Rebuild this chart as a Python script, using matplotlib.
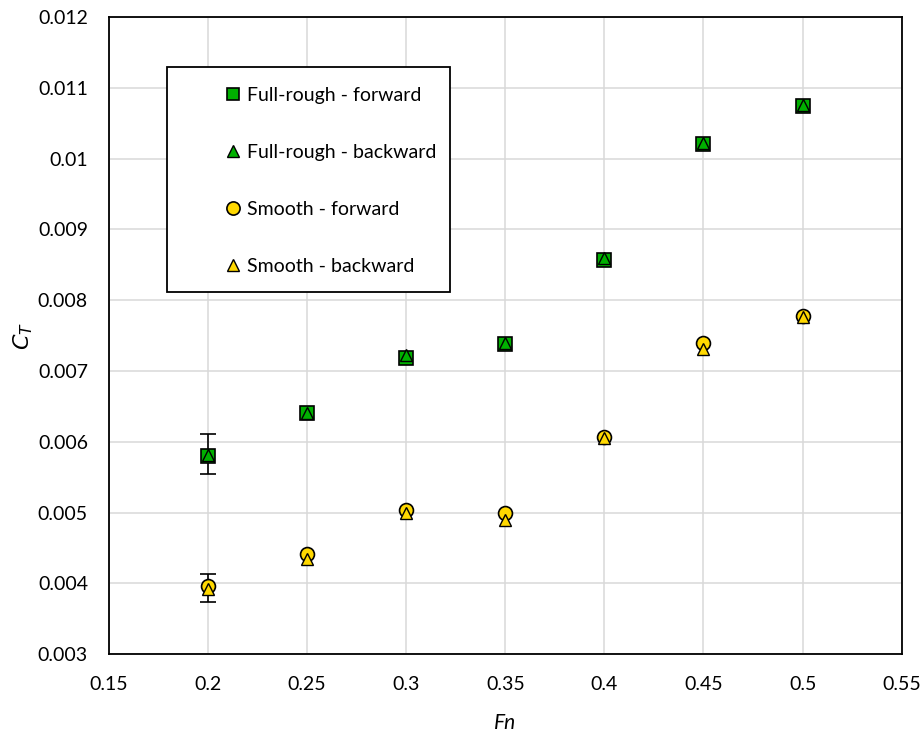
import matplotlib
matplotlib.use("Agg")
import matplotlib.pyplot as plt
from matplotlib.patches import Rectangle

plt.rcParams['font.family'] = ['Lato', 'DejaVu Sans']

# Froude number and total resistance coefficient
fn = [0.2, 0.25, 0.3, 0.35, 0.4, 0.45, 0.5]
rough_fwd = [0.00580, 0.00640, 0.00719, 0.00738, 0.00857, 0.01021, 0.01074]
rough_bwd = [0.00582, 0.00641, 0.00722, 0.00739, 0.00860, 0.01022, 0.01076]
smooth_fwd = [0.00396, 0.00442, 0.00504, 0.00500, 0.00607, 0.00740, 0.00777]
smooth_bwd = [0.00392, 0.00435, 0.00500, 0.00489, 0.00606, 0.00731, 0.00776]

# uncertainty bars only shown at Fn = 0.2 (lower, upper)
rough_err = [0.00026, 0.00031]
smooth_err = [0.00022, 0.00017]

labels = ['Full-rough - forward', 'Full-rough - backward',
          'Smooth - forward', 'Smooth - backward']

green = '#00B000'
yellow = '#FFD800'

fig = plt.figure(figsize=(9.22, 7.4), dpi=100)
ax = fig.add_axes([0.118, 0.116, 0.860, 0.861])

ax.errorbar([fn[0]], [rough_fwd[0]], yerr=[[rough_err[0]], [rough_err[1]]],
            fmt='none', ecolor='black', elinewidth=1.2, capsize=6, capthick=1.2, zorder=3)
ax.errorbar([fn[0]], [smooth_fwd[0]], yerr=[[smooth_err[0]], [smooth_err[1]]],
            fmt='none', ecolor='black', elinewidth=1.2, capsize=6, capthick=1.2, zorder=3)

h1, = ax.plot(fn, rough_fwd, 's', ms=9.5, mfc=green, mec='black', mew=1.2, zorder=4)
h2, = ax.plot(fn, rough_bwd, '^', ms=9, mfc=green, mec='black', mew=1.0, zorder=5)
h3, = ax.plot(fn, smooth_fwd, 'o', ms=10, mfc=yellow, mec='black', mew=1.2, zorder=4)
h4, = ax.plot(fn, smooth_bwd, '^', ms=9, mfc=yellow, mec='black', mew=1.0, zorder=5)

ax.set_xlim(0.15, 0.55)
ax.set_ylim(0.003, 0.012)
ax.set_xticks([0.15, 0.2, 0.25, 0.3, 0.35, 0.4, 0.45, 0.5, 0.55])
ax.set_xticklabels(['0.15', '0.2', '0.25', '0.3', '0.35', '0.4', '0.45', '0.5', '0.55'])
ax.set_yticks([0.003, 0.004, 0.005, 0.006, 0.007, 0.008, 0.009, 0.01, 0.011, 0.012])
ax.set_yticklabels(['0.003', '0.004', '0.005', '0.006', '0.007', '0.008', '0.009',
                    '0.01', '0.011', '0.012'])
ax.tick_params(axis='both', length=0, labelsize=14)
ax.tick_params(axis='x', pad=16)
ax.tick_params(axis='y', pad=15)

ax.grid(True, color='#d9d9d9', linewidth=1.1)
ax.set_axisbelow(True)
for s in ax.spines.values():
    s.set_color('black')
    s.set_linewidth(1.3)

ax.set_xlabel('Fn', fontsize=15, style='italic', labelpad=14)
ax.set_ylabel('$C_T$', fontsize=16, labelpad=2)

# legend frame drawn as a separate box, entries placed inside it
box = Rectangle((0.073, 0.568), 0.357, 0.353, transform=ax.transAxes,
                facecolor='white', edgecolor='black', linewidth=1.3, zorder=6)
ax.add_patch(box)
leg = ax.legend([h1, h2, h3, h4], labels, loc='upper left',
                bbox_to_anchor=(0.138, 0.902), frameon=False, fontsize=14,
                labelspacing=2.05, handlelength=0.7, handletextpad=0.4,
                borderaxespad=0, markerscale=0.95)
leg.set_zorder(7)

fig.savefig('out.png', dpi=100)
